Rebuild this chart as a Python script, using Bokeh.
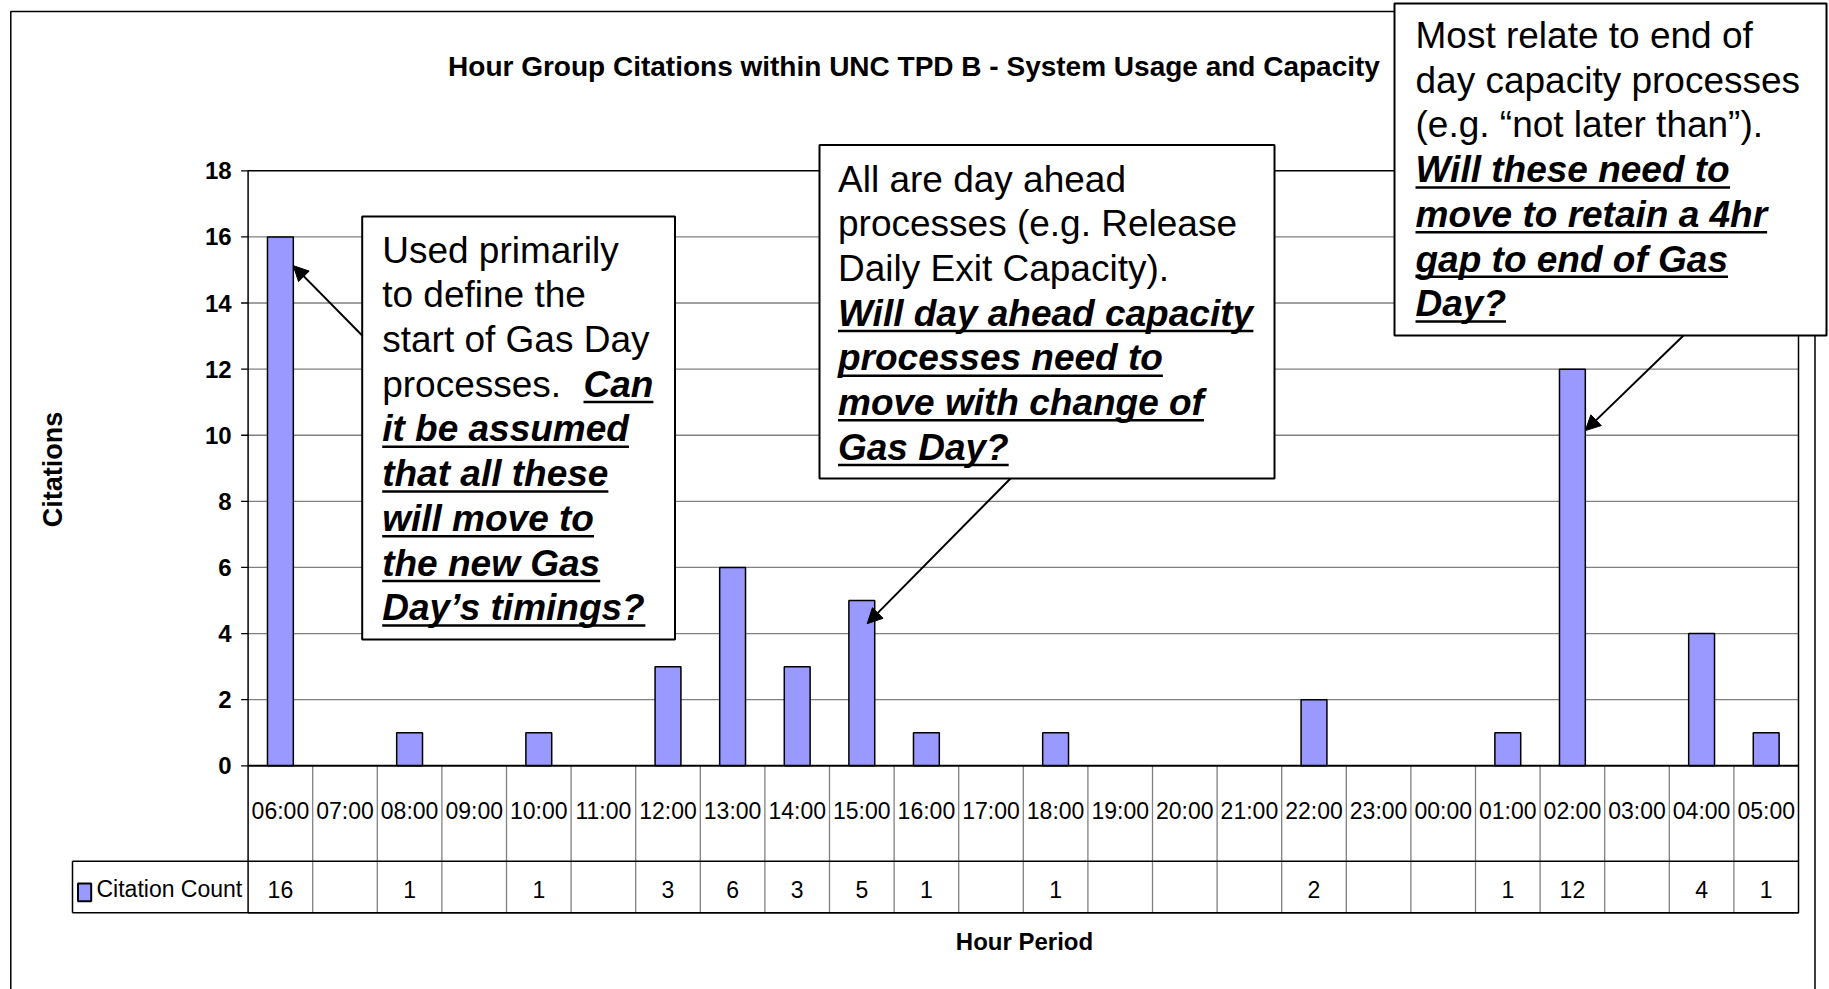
import math
from bokeh.plotting import figure
from bokeh.models import Range1d, Label, BoxAnnotation, Arrow, NormalHead
from bokeh.core.properties import value
from bokeh.embed import file_html
from bokeh.resources import INLINE

# ---------------- data ----------------
hours = ["06:00", "07:00", "08:00", "09:00", "10:00", "11:00", "12:00", "13:00",
         "14:00", "15:00", "16:00", "17:00", "18:00", "19:00", "20:00", "21:00",
         "22:00", "23:00", "00:00", "01:00", "02:00", "03:00", "04:00", "05:00"]
citation_counts = [16, None, 1, None, 1, None, 3, 6, 3, 5, 1, None,
                   1, None, None, None, 2, None, None, 1, 12, None, 4, 1]
y_ticks = [0, 2, 4, 6, 8, 10, 12, 14, 16, 18]
series_name = "Citation Count"
title_text = "Hour Group Citations within UNC TPD B - System Usage and Capacity"
x_title = "Hour Period"
y_title = "Citations"

note1_lines = [[("Used primarily", "n")], [("to define the", "n")], [("start of Gas Day", "n")],
               [("processes.  ", "n"), ("Can", "b")], [("it be assumed", "b")],
               [("that all these", "b")], [("will move to", "b")], [("the new Gas", "b")],
               [("Day\u2019s timings?", "b")]]
note2_lines = [[("All are day ahead", "n")], [("processes (e.g. Release", "n")],
               [("Daily Exit Capacity).", "n")], [("Will day ahead capacity", "b")],
               [("processes need to", "b")], [("move with change of", "b")], [("Gas Day?", "b")]]
note3_lines = [[("Most relate to end of", "n")], [("day capacity processes", "n")],
               [("(e.g. \u201cnot later than\u201d).", "n")], [("Will these need to", "b")],
               [("move to retain a 4hr", "b")], [("gap to end of Gas", "b")], [("Day?", "b")]]

# ---------------- layout / style ----------------
W, H = 1829, 989
NCAT = len(hours)
Y_TOP = y_ticks[-1]
PL, PR = 247.6, 1798.0          # plot area left / right (px)
P_TOP, P_ZERO = 170.3, 765.3    # pixel rows of top tick and zero
UX = (PR - PL) / NCAT
UY = (P_ZERO - P_TOP) / (Y_TOP - y_ticks[0])
ROW1 = (860.7 - P_ZERO) / UY
ROW2 = (912.3 - 860.7) / UY
Y_BOT = -(ROW1 + ROW2)
FONT = "Liberation Sans"
BAR_COLOR = "#9999FF"
GRID = "#808080"
BAR_W = 0.4


def X(px):
    return (px - PL) / UX


def Y(py):
    return Y_TOP - (py - P_TOP) / UY


# Arial Bold advance widths (1/1000 em) for underline lengths
AW = {' ': 278, '!': 333, "'": 238, '\u2019': 278, '(': 333, ')': 333, '.': 278, '?': 611, ',': 278,
      'A': 722, 'B': 722, 'C': 722, 'D': 722, 'E': 667, 'F': 611, 'G': 778, 'H': 722, 'I': 278,
      'J': 556, 'K': 722, 'L': 611, 'M': 833, 'N': 722, 'O': 778, 'P': 667, 'Q': 778, 'R': 722,
      'S': 667, 'T': 611, 'U': 722, 'V': 667, 'W': 944, 'X': 667, 'Y': 667, 'Z': 611,
      'a': 556, 'b': 611, 'c': 556, 'd': 611, 'e': 556, 'f': 333, 'g': 611, 'h': 611, 'i': 278,
      'j': 278, 'k': 556, 'l': 278, 'm': 889, 'n': 611, 'o': 611, 'p': 611, 'q': 611, 'r': 389,
      's': 556, 't': 333, 'u': 611, 'v': 556, 'w': 778, 'x': 556, 'y': 556, 'z': 500}
for d in "0123456789":
    AW[d] = 556


def bold_width(s, size):
    return sum(AW.get(ch, 556) for ch in s) * size / 1000.0


p = figure(width=W, height=H, min_border=0, title=None,
           x_range=Range1d(X(0), X(W)), y_range=Range1d(Y(H), Y(0)),
           x_axis_location=None, y_axis_location=None,
           output_backend="svg", toolbar_location=None,
           background_fill_color="white", border_fill_color="white")
p.outline_line_color = None
p.grid.visible = False

# outer chart border
p.quad(left=X(10.3), right=X(1814.5), top=Y(11), bottom=Y(1010),
       fill_color=None, line_color="black", line_width=1.5)

# gridlines
grid_ticks = y_ticks[1:-1]
p.segment(x0=[0] * len(grid_ticks), x1=[NCAT] * len(grid_ticks), y0=grid_ticks, y1=grid_ticks,
          line_color=GRID, line_width=1.3)

# table lines
bounds = list(range(1, NCAT))
p.segment(x0=bounds, y0=[0] * len(bounds), x1=bounds, y1=[Y_BOT] * len(bounds),
          line_color=GRID, line_width=1.3)
LEG_L = X(72)
p.segment(x0=[LEG_L, LEG_L, LEG_L], y0=[-ROW1, Y_BOT, -ROW1],
          x1=[NCAT, NCAT, LEG_L], y1=[-ROW1, Y_BOT, Y_BOT],
          line_color="black", line_width=1.5)

# bars
xs = [i + 0.5 for i, c in enumerate(citation_counts) if c]
tops = [c for c in citation_counts if c]
p.vbar(x=xs, top=tops, bottom=0, width=BAR_W, fill_color=BAR_COLOR,
       line_color="black", line_width=1.5)

# plot area + table frame, zero line
p.quad(left=0, right=NCAT, bottom=Y_BOT, top=Y_TOP, fill_color=None,
       line_color="black", line_width=1.5)
p.segment(x0=[0], y0=[0], x1=[NCAT], y1=[0], line_color="black", line_width=2)

# y axis ticks and labels
TICK = 7 / UX
p.segment(x0=[-TICK] * len(y_ticks), x1=[0] * len(y_ticks), y0=y_ticks, y1=y_ticks,
          line_color="black", line_width=1.3)
p.text(x=[-16.5 / UX] * len(y_ticks), y=y_ticks, text=[str(t) for t in y_ticks],
       text_font=value(FONT), text_font_size=value("24px"), text_font_style="bold",
       text_align="right", text_baseline="middle", text_color="black")

# table texts
centers = [i + 0.5 for i in range(NCAT)]
p.text(x=centers, y=[-ROW1 / 2 + 0.08] * NCAT, text=hours, text_font=value(FONT),
       text_font_size=value("23px"), text_align="center", text_baseline="middle",
       text_color="black")
p.text(x=centers, y=[-(ROW1 + ROW2 / 2) - 0.07] * NCAT,
       text=["" if c is None else str(c) for c in citation_counts],
       text_font=value(FONT), text_font_size=value("23px"), text_align="center",
       text_baseline="middle", text_color="black")

# legend cell
p.quad(left=X(77.5), right=X(90.7), top=Y(883), bottom=Y(900.7),
       fill_color=BAR_COLOR, line_color="black", line_width=2)
p.text(x=[X(96)], y=[-(ROW1 + ROW2 / 2) - 0.07], text=[series_name], text_font=value(FONT),
       text_font_size=value("23px"), text_align="left", text_baseline="middle",
       text_color="black")

# titles
p.add_layout(Label(x=X(913.5), y=Y(66), text=title_text, text_font=FONT,
                   text_font_size="28px", text_font_style="bold", text_align="center",
                   text_baseline="middle", text_color="black"))
p.add_layout(Label(x=X(1024), y=Y(941), text=x_title, text_font=FONT,
                   text_font_size="24px", text_font_style="bold", text_align="center",
                   text_baseline="middle", text_color="black"))
p.add_layout(Label(x=X(52.5), y=Y(469), text=y_title, text_font=FONT, angle=math.pi / 2,
                   text_font_size="27px", text_font_style="bold", text_align="center",
                   text_baseline="middle", text_color="black"))

# note boxes
FS = 37
LH = 44.72


def note(box, text_left, first_center, lines, can_x=None):
    l, r, t, b = box
    p.add_layout(BoxAnnotation(left=X(l), right=X(r), top=Y(t), bottom=Y(b),
                               fill_color="white", fill_alpha=1, line_color="black",
                               line_alpha=1, line_width=2))
    for k, parts in enumerate(lines):
        cy = first_center + k * LH
        xpos = text_left
        for txt, sty in parts:
            bold = sty == "b"
            p.add_layout(Label(x=X(xpos), y=Y(cy), text=txt, text_font=FONT,
                               text_font_size=f"{FS}px",
                               text_font_style="bold italic" if bold else "normal",
                               text_baseline="middle", text_align="left", text_color="black"))
            if bold:
                w = bold_width(txt, FS)
                p.add_layout(BoxAnnotation(left=X(xpos), right=X(xpos + w),
                                           top=Y(cy + 16.5), bottom=Y(cy + 19),
                                           fill_color="black", fill_alpha=1, line_alpha=0))
            else:
                xpos = can_x if can_x is not None else xpos


note((361.7, 674.5, 216, 639), 381.7, 249.6, note1_lines, can_x=583)
note((819, 1274, 144.6, 478), 837.5, 178.5, note2_lines)
note((1394, 1826, 3, 335), 1415, 35, note3_lines)


# arrows (tips anchored on bars)
def arrow(x0, y0, x1, y1):
    p.add_layout(Arrow(end=NormalHead(size=15, fill_color="black", line_color="black"),
                       x_start=x0, y_start=y0, x_end=x1, y_end=y1,
                       line_color="black", line_width=2))


i06 = hours.index("06:00")
i15 = hours.index("15:00")
i02 = hours.index("02:00")
arrow(X(361.7), Y(335), i06 + 0.5 + BAR_W / 2, 15.13)
arrow(X(1010), Y(478), i15 + 0.584, 4.3)
arrow(X(1683), Y(335), i02 + 0.5 + BAR_W / 2, 10.14)

open("out.html", "w").write(file_html(p, INLINE))
